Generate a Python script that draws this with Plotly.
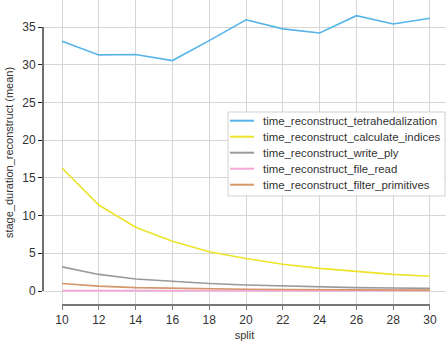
import plotly.graph_objects as go

split = [10, 12, 14, 16, 18, 20, 22, 24, 26, 28, 30]
tetrahedalization = [33.1, 31.3, 31.35, 30.55, 33.2, 35.95, 34.75, 34.2, 36.5, 35.4, 36.15]
calculate_indices = [16.3, 11.4, 8.45, 6.6, 5.2, 4.3, 3.55, 3.0, 2.6, 2.2, 1.95]
write_ply = [3.2, 2.2, 1.6, 1.25, 1.0, 0.8, 0.65, 0.55, 0.45, 0.4, 0.35]
file_read = [0.05, 0.05, 0.05, 0.05, 0.05, 0.05, 0.05, 0.05, 0.05, 0.05, 0.05]
filter_primitives = [1.0, 0.65, 0.45, 0.35, 0.28, 0.23, 0.2, 0.17, 0.15, 0.13, 0.12]

series_names = ["time_reconstruct_tetrahedalization", "time_reconstruct_calculate_indices",
                "time_reconstruct_write_ply", "time_reconstruct_file_read",
                "time_reconstruct_filter_primitives"]
series_values = [tetrahedalization, calculate_indices, write_ply, file_read, filter_primitives]
series_colors = ["#56B4E9", "#EDE42A", "#9A9A9A", "#F7A8D8", "#D4966A"]
x_ticks = [10, 12, 14, 16, 18, 20, 22, 24, 26, 28, 30]
y_ticks = [0, 5, 10, 15, 20, 25, 30, 35]

font = "Liberation Sans, Arial, sans-serif"
fig = go.Figure()
for name, vals, col in zip(series_names, series_values, series_colors):
    fig.add_trace(go.Scatter(x=split, y=vals, mode="lines", name=name, showlegend=False,
                             line=dict(color=col, width=1.6)))

fig.update_layout(
    width=446, height=343,
    margin=dict(l=43, r=0, t=0, b=38),
    paper_bgcolor="white", plot_bgcolor="white",
    font=dict(family=font, size=11, color="#333333"),
    showlegend=False,
    xaxis=dict(range=[8.967, 30.87], tickvals=x_ticks, ticks="outside", ticklen=4,
               tickcolor="#777777", showgrid=True, gridcolor="#d6d6d6", gridwidth=1,
               zeroline=False, showline=False,
               title=dict(text="split", standoff=4, font=dict(size=11)),
               tickfont=dict(size=12)),
    yaxis=dict(range=[-1.856, 38.58], tickvals=y_ticks, ticks="outside", ticklen=4,
               tickcolor="#222222", showgrid=True, gridcolor="#d6d6d6", gridwidth=1,
               zeroline=False, showline=False,
               title=dict(text="stage_duration_reconstruct (mean)", standoff=6, font=dict(size=11)),
               tickfont=dict(size=12)),
)
fig.add_shape(type="line", xref="x", yref="paper", x0=10, x1=30, y0=0, y1=0,
              line=dict(color="#777777", width=2))
fig.add_shape(type="line", xref="paper", yref="y", x0=0, x1=0, y0=0, y1=35,
              line=dict(color="#222222", width=1.3))

# legend box (pixel -> paper conversion)
def px(x):
    return (x - 43) / 403.0

def py(y):
    return (305 - y) / 305.0

fig.add_shape(type="rect", xref="paper", yref="paper", x0=px(228), x1=px(445),
              y0=py(196), y1=py(112), line=dict(color="#d0d0d0", width=1),
              fillcolor="rgba(255,255,255,0.9)", layer="above")
for i, (name, col) in enumerate(zip(series_names, series_colors)):
    yy = 120.7 + 16 * i
    fig.add_shape(type="line", xref="paper", yref="paper", x0=px(230), x1=px(254),
                  y0=py(yy), y1=py(yy), line=dict(color=col, width=2), layer="above")
    fig.add_annotation(xref="paper", yref="paper", x=px(261), y=py(yy), text=name,
                       showarrow=False, xanchor="left", yanchor="middle",
                       font=dict(family=font, size=11.4, color="#333333"))
fig.write_html("out.html")
